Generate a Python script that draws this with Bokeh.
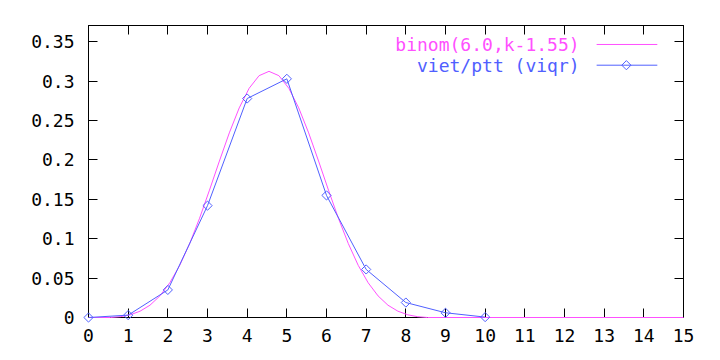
from bokeh.plotting import figure
from bokeh.models import (FixedTicker, CustomJSTickFormatter, LinearAxis, Range1d)
from bokeh.core.properties import value
from bokeh.embed import file_html
from bokeh.resources import INLINE

# ---- data ----
fit_k = [0, 0.55, 0.8, 1.05, 1.3, 1.55, 1.8, 2.05, 2.3, 2.55, 2.8, 3.05, 3.3, 3.55,
         3.8, 4.05, 4.3, 4.55, 4.8, 5.05, 5.3, 5.55, 5.8, 6.05, 6.3, 6.55, 6.8,
         7.05, 7.3, 7.55, 7.8, 8.05, 8.3, 8.55, 15]
fit_p = [0, 0, 0.001, 0.0034, 0.008, 0.0156, 0.0274, 0.0441, 0.0662, 0.0938, 0.126,
         0.1617, 0.1986, 0.2344, 0.2661, 0.291, 0.307, 0.3125, 0.307, 0.291, 0.2661,
         0.2344, 0.1986, 0.1617, 0.126, 0.0938, 0.0662, 0.0441, 0.0274, 0.0156,
         0.008, 0.0034, 0.001, 0, 0]
obs_k = [0, 1, 2, 3, 4, 5, 6, 7, 8, 9, 10]
obs_p = [0, 0.003, 0.035, 0.142, 0.278, 0.303, 0.155, 0.061, 0.019, 0.006, 0.0005]
x_ticks = list(range(16))
y_ticks = [0, 0.05, 0.1, 0.15, 0.2, 0.25, 0.3, 0.35]
legend_labels = ["binom(6.0,k-1.55)", "viet/ptt (viqr)"]

PINK = "#ff50ff"
BLUE = "#5060ff"
FONT = "DejaVu Sans Mono"
FS = "18px"
MARK = dict(marker="square", angle=0.785398, size=6.5, line_color=BLUE,
            fill_alpha=0, line_width=1)

p = figure(width=720, height=360, output_backend="svg", toolbar_location=None,
           x_range=Range1d(0, 15), y_range=Range1d(0, 0.3707),
           min_border_left=88, min_border_right=37, min_border_top=25,
           min_border_bottom=43, tools="")
p.grid.visible = False
p.outline_line_color = "black"
p.outline_line_width = 1
p.background_fill_color = "white"
p.border_fill_color = "white"

for ax in (p.xaxis[0], p.yaxis[0]):
    ax.major_tick_in = 9
    ax.major_tick_out = 0
    ax.minor_tick_line_color = None
    ax.axis_line_color = "black"
    ax.major_tick_line_color = "black"
    ax.major_label_text_font = FONT
    ax.major_label_text_font_size = FS
    ax.major_label_text_color = "black"

p.xaxis[0].ticker = FixedTicker(ticks=x_ticks)
p.yaxis[0].ticker = FixedTicker(ticks=y_ticks)
p.yaxis[0].formatter = CustomJSTickFormatter(
    code="return tick.toFixed(2).replace(/\\.?0+$/, '');")
p.xaxis[0].major_label_standoff = 11
p.yaxis[0].major_label_standoff = 14

# mirror ticks on top and right (no labels)
top = LinearAxis(ticker=FixedTicker(ticks=x_ticks), major_tick_in=9, major_tick_out=0,
                 minor_tick_line_color=None,
                 formatter=CustomJSTickFormatter(code="return '';"),
                 major_label_standoff=0)
right = LinearAxis(ticker=FixedTicker(ticks=y_ticks), major_tick_in=9, major_tick_out=0,
                   minor_tick_line_color=None,
                   formatter=CustomJSTickFormatter(code="return '';"),
                   major_label_standoff=0)
p.add_layout(top, "above")
p.add_layout(right, "right")

# series
p.line(fit_k, fit_p, line_color=PINK, line_width=1, level="overlay")
p.line(obs_k, obs_p, line_color=BLUE, line_width=1, level="overlay")
p.scatter(obs_k, obs_p, level="overlay", **MARK)

# gnuplot-style key (text right-aligned, sample on the right)
key_text_x = 12.38
key_line_x0, key_line_x1 = 12.81, 14.34
key_marker_x = 13.56
key_y = [0.3466, 0.3203]
p.text(x=[key_text_x], y=[key_y[0]], text=[legend_labels[0]], text_color=PINK,
       text_font=value(FONT), text_font_size=FS, text_align="right",
       text_baseline="middle")
p.text(x=[key_text_x], y=[key_y[1]], text=[legend_labels[1]], text_color=BLUE,
       text_font=value(FONT), text_font_size=FS, text_align="right",
       text_baseline="middle")
p.line([key_line_x0, key_line_x1], [key_y[0], key_y[0]], line_color=PINK, line_width=1)
p.line([key_line_x0, key_line_x1], [key_y[1], key_y[1]], line_color=BLUE, line_width=1)
p.scatter([key_marker_x], [key_y[1]], **MARK)

open("out.html", "w").write(file_html(p, INLINE))
